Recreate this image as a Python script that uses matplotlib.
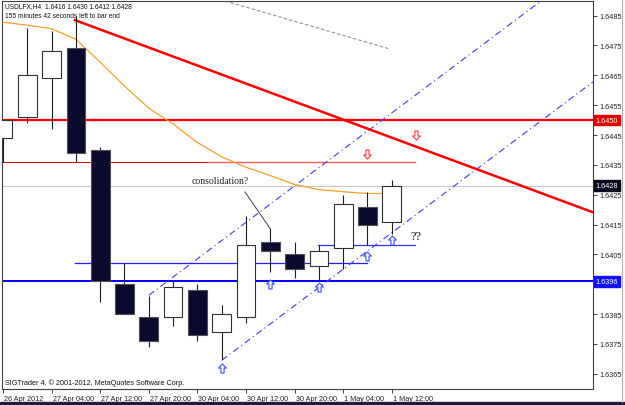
import numpy as np
import matplotlib
matplotlib.use("Agg")
import matplotlib.pyplot as plt
import matplotlib.transforms as mtransforms
from matplotlib.path import Path

# USDLFX H4 bars, 26 Apr 20:00 .. 1 May 12:00
opens  = [1.6444, 1.6451, 1.6464, 1.6474, 1.6440, 1.6395, 1.6384, 1.6384, 1.6393,
          1.6379, 1.6384, 1.6409, 1.6405, 1.6401, 1.6407, 1.6421, 1.6416]
highs  = [1.6450, 1.6481, 1.6480, 1.6485, 1.6441, 1.6402, 1.6391, 1.6396, 1.6395,
          1.6388, 1.6418, 1.6414, 1.6409, 1.6408, 1.6425, 1.6426, 1.6430]
lows   = [1.6436, 1.6449, 1.6447, 1.6436, 1.6389, 1.6385, 1.6374, 1.6381, 1.6376,
          1.6370, 1.6382, 1.6399, 1.6397, 1.6396, 1.6400, 1.6408, 1.6412]
closes = [1.6450, 1.6465, 1.6473, 1.6439, 1.6396, 1.6385, 1.6376, 1.6394, 1.6378,
          1.6385, 1.6408, 1.6406, 1.6400, 1.6406, 1.6422, 1.6415, 1.6428]
ma = [1.64828, 1.64818, 1.64806, 1.64771, 1.64694, 1.64614, 1.64540, 1.64487, 1.64425,
      1.64377, 1.64342, 1.64314, 1.64284, 1.64267, 1.64260, 1.64254, 1.64254]

time_ticks = [0, 2, 4, 6, 8, 10, 12, 14, 16]
time_labels = ["26 Apr 2012", "27 Apr 04:00", "27 Apr 12:00", "27 Apr 20:00", "30 Apr 04:00",
               "30 Apr 12:00", "30 Apr 20:00", "1 May 04:00", "1 May 12:00"]
price_ticks = [1.6365, 1.6375, 1.6385, 1.6395, 1.6405, 1.6415, 1.6425,
               1.6435, 1.6445, 1.6455, 1.6465, 1.6475, 1.6485]

# drawn objects
trend_x, trend_y = [2.96, 24.28], [1.64835, 1.64191]
chan_up_x, chan_up_y = [6, 22.12], [1.63913, 1.64898]
chan_lo_x, chan_lo_y = [9, 24.28], [1.63695, 1.64628]
grey_x, grey_y = [9.14, 15.93], [1.64899, 1.64738]
res_level = 1.6450
sup_level = 1.6396
bid_level = 1.6428
thin_red = 1.6436
thin_red_x = [-0.04, 8.44, 16.95]
blue_a, blue_a_x = 1.6402, [2.96, 14.98]
blue_b, blue_b_x = 1.6408, [12.96, 16.95]
up_idx = [9, 11, 13, 15, 16]
up_price = [1.63668, 1.63951, 1.63940, 1.64043, 1.64098]
dn_idx = [15, 17]
dn_price = [1.64386, 1.64450]
note_line_x, note_line_y = [9.96, 10.99], [1.64259, 1.64137]

ui = "Liberation Sans"
serif = "Liberation Serif"

fig = plt.figure(figsize=(6.25, 4.06), dpi=100)
ax = fig.add_axes([2/625, 16/406, 591/625, 388/406])
ax.set_xlim(-0.04, 24.28)
ax.set_ylim(1.63599, 1.64899)

# levels
ax.axhline(res_level, color="#ff0000", lw=1.6, zorder=2)
ax.axhline(sup_level, color="#0000ff", lw=1.4, zorder=2)
ax.axhline(bid_level, color="#c8c8c8", lw=0.8, zorder=1)
ax.plot(thin_red_x[:2], [thin_red]*2, color="#e00000", lw=0.7, zorder=2)
ax.plot(thin_red_x[1:], [thin_red]*2, color="#ff5a5a", lw=1.0, zorder=2)
ax.plot(blue_a_x, [blue_a]*2, color="#2020ff", lw=0.9, zorder=2)
ax.plot(blue_b_x, [blue_b]*2, color="#3030ff", lw=0.9, zorder=2)

# trend lines
ax.plot(trend_x, trend_y, color="#ff0000", lw=1.8, zorder=3)
ax.plot(chan_up_x, chan_up_y, color="#3c3cff", lw=0.8, ls=(0, (6, 3, 1, 3)), zorder=2)
ax.plot(chan_lo_x, chan_lo_y, color="#3c3cff", lw=0.8, ls=(0, (6, 3, 1, 3)), zorder=2)
ax.plot(grey_x, grey_y, color="#909090", lw=0.8, ls=(0, (3, 2)), zorder=2)

# moving average
ax.plot(range(len(ma)), ma, color="#f5a030", lw=0.9, zorder=3)

# candles
x = np.arange(len(opens))
o, h, l, c = map(np.array, (opens, highs, lows, closes))
ax.vlines(x, l, h, color="#202020", lw=0.8, zorder=4)
bull = c >= o
ax.bar(x[bull], (c - o)[bull], bottom=o[bull], width=0.77, color="white",
       edgecolor="#303030", lw=0.8, zorder=5)
ax.bar(x[~bull], (o - c)[~bull], bottom=c[~bull], width=0.77, color="#0a0a2e",
       edgecolor="#505050", lw=0.8, zorder=5)

# hollow arrow markers
up_verts = [(0, 1), (0.85, 0.1), (0.35, 0.1), (0.35, -1), (-0.35, -1),
            (-0.35, 0.1), (-0.85, 0.1), (0, 1)]
up_arrow = Path(up_verts, closed=True)
dn_arrow = Path([(vx, -vy) for vx, vy in up_verts], closed=True)
ax.plot(up_idx, up_price, ls="none", marker=up_arrow, ms=6.5, mfc="white",
        mec="#3a4cff", mew=0.8, zorder=6)
ax.plot(dn_idx, dn_price, ls="none", marker=dn_arrow, ms=6.5, mfc="white",
        mec="#ff3a3a", mew=0.8, zorder=6)

# annotations
ax.plot(note_line_x, note_line_y, color="#404040", lw=0.7, zorder=6)
ax.text(7.78, 1.64296, "consolidation?", family=serif, fontsize=7, va="center",
        ha="left", color="#202020", zorder=6)
ax.text(16.75, 1.64110, "??", family=serif, fontsize=9, va="center", ha="left",
        color="#101010", zorder=6)

# axes styling
for s in ax.spines.values():
    s.set_color("#404040")
    s.set_linewidth(0.8)
ax.yaxis.tick_right()
ax.set_yticks(price_ticks)
# 1.6395 sits under the blue price flag
ax.set_yticklabels(["" if abs(v - sup_level) < 0.0003 else f"{v:.4f}" for v in price_ticks])
ax.tick_params(axis="y", length=3, width=0.6, pad=1.5, labelsize=5.2, colors="#202020")
ax.set_xticks(time_ticks)
ax.set_xticklabels(time_labels, ha="left")
ax.tick_params(axis="x", length=3, width=0.6, pad=1.5, labelsize=5.2, colors="#202020")
offset = mtransforms.ScaledTranslation(1/100, 0, fig.dpi_scale_trans)
for lab in ax.get_xticklabels() + ax.get_yticklabels():
    lab.set_family(ui)
for lab in ax.get_xticklabels():
    lab.set_transform(lab.get_transform() + offset)

# price flags on the right scale
trans = mtransforms.blended_transform_factory(ax.transAxes, ax.transData)
for lev, bg in [(res_level, "#e00000"), (bid_level, "#0a0a1e"), (sup_level, "#1010ff")]:
    ax.text(1.004, lev, f"{lev:.4f}", transform=trans, ha="left", va="center",
            fontsize=5.2, family=ui, color="white", clip_on=False, zorder=10,
            bbox=dict(boxstyle="square,pad=0.25", fc=bg, ec=bg))

# header and footer text
fig.text(5/625, 1 - 7/406, "USDLFX,H4  1.6416 1.6430 1.6412 1.6428", family=ui,
         fontsize=4.8, va="center", ha="left", color="#101010")
fig.text(5/625, 1 - 16/406, "155 minutes 42 seconds left to bar end", family=ui,
         fontsize=4.8, va="center", ha="left", color="#101010")
fig.text(5/625, 1 - 383/406, "SIGTrader 4, \u00a9 2001-2012, MetaQuotes Software Corp.",
         family=ui, fontsize=5.2, va="center", ha="left", color="#101010")

# window border
fig.patches.append(plt.Rectangle((0, 0), 1, 3/406, transform=fig.transFigure,
                                 color="#1c1c3c", zorder=0))
fig.lines.append(plt.Line2D([622/625, 622/625], [3/406, 1], transform=fig.transFigure,
                            color="#b0b0b0", lw=0.8))

fig.savefig("out.png", dpi=100)
